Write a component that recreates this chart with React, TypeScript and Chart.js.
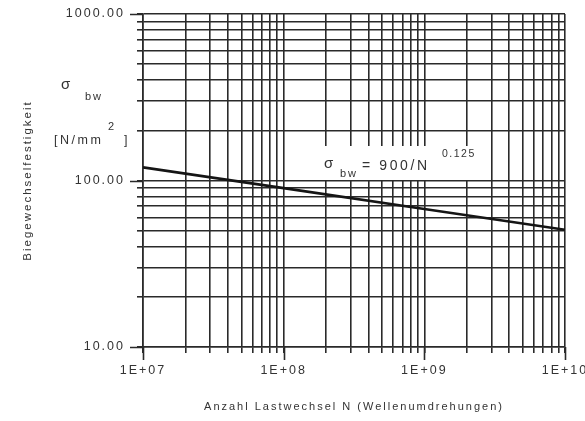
import { useEffect, useRef } from "react";
import { Chart, registerables } from "chart.js";

Chart.register(...registerables);

// Load cycles N and the bending fatigue strength read at each decade
const loadCycles = [1e7, 1e8, 1e9, 1e10];
const fatigueStrength = [120.0, 90.0, 67.5, 50.6];

// Decade boundaries and the labels printed at them
const xDecades = [1e7, 1e8, 1e9, 1e10];
const xDecadeLabels = ["1E+07", "1E+08", "1E+09", "1E+10"];
const yDecades = [10, 100, 1000];
const yDecadeLabels = ["10.00", "100.00", "1000.00"];

const xTitle = "Anzahl Lastwechsel N (Wellenumdrehungen)";
const yTitle = "Biegewechselfestigkeit";

const INK = "#2a2a2a";
const TEXT = "#333333";
const FONT = "Arial, 'Liberation Sans', sans-serif";

type Tick = { value: number; major: boolean };

// 1..9 x 10^n ticks for every decade, plus the closing decade
function logTicks(decades: number[]): Tick[] {
  const out: Tick[] = [];
  for (let i = 0; i < decades.length - 1; i++) {
    for (let m = 1; m <= 9; m++) out.push({ value: m * decades[i], major: m === 1 });
  }
  out.push({ value: decades[decades.length - 1], major: true });
  return out;
}

function labelFor(value: number, decades: number[], labels: string[]) {
  const i = decades.indexOf(value);
  return i >= 0 ? labels[i] : "";
}

// Wide letter spacing for every text on the canvas
const spacing = {
  id: "spacing",
  beforeDraw(chart: any) {
    chart.ctx.letterSpacing = "2px";
  },
};

// Longer tick marks at each decade
const decadeTicks = {
  id: "decadeTicks",
  afterDraw(chart: any) {
    const { ctx, chartArea, scales } = chart;
    ctx.save();
    ctx.strokeStyle = INK;
    ctx.lineWidth = 1.6;
    ctx.beginPath();
    xDecades.forEach((v) => {
      const px = Math.round(scales.x.getPixelForValue(v)) + 0.5;
      ctx.moveTo(px, chartArea.bottom);
      ctx.lineTo(px, chartArea.bottom + 13);
    });
    yDecades.forEach((v) => {
      const py = Math.round(scales.y.getPixelForValue(v)) + 0.5;
      ctx.moveTo(chartArea.left - 13, py);
      ctx.lineTo(chartArea.left, py);
    });
    ctx.stroke();
    ctx.restore();
  },
};

// Unit label on the left and the formula box over the grid
const labels = {
  id: "labels",
  beforeDatasetsDraw(chart: any) {
    const { ctx } = chart;
    ctx.save();
    ctx.fillStyle = TEXT;
    ctx.textBaseline = "alphabetic";
    ctx.textAlign = "left";

    // σ_bw [N/mm²]
    ctx.letterSpacing = "2px";
    ctx.font = `15px ${FONT}`;
    ctx.fillText("σ", 61, 89);
    ctx.font = `11px ${FONT}`;
    ctx.fillText("bw", 85, 100);
    ctx.letterSpacing = "2.5px";
    ctx.font = `12.5px ${FONT}`;
    ctx.fillText("[N/mm", 54, 144);
    ctx.font = `11px ${FONT}`;
    ctx.fillText("2", 108, 130);
    ctx.font = `12.5px ${FONT}`;
    ctx.fillText("]", 124, 144);

    // formula box
    ctx.fillStyle = "#ffffff";
    ctx.fillRect(320, 146, 158, 34);
    ctx.fillStyle = TEXT;
    ctx.letterSpacing = "2px";
    ctx.font = `15px ${FONT}`;
    ctx.fillText("σ", 324, 168);
    ctx.font = `11px ${FONT}`;
    ctx.fillText("bw", 340, 177);
    ctx.letterSpacing = "2.6px";
    ctx.font = `14px ${FONT}`;
    ctx.fillText("= 900/N", 362, 170);
    ctx.letterSpacing = "1.5px";
    ctx.font = `10.5px ${FONT}`;
    ctx.fillText("0.125", 442, 157);
    ctx.restore();
  },
};

export default function App() {
  const canvasRef = useRef<HTMLCanvasElement | null>(null);

  useEffect(() => {
    const canvas = canvasRef.current;
    if (!canvas) return;

    const chart = new Chart(canvas, {
      type: "line",
      data: {
        datasets: [
          {
            data: loadCycles.map((n, i) => ({ x: n, y: fatigueStrength[i] })),
            borderColor: "#151515",
            borderWidth: 2.6,
            pointRadius: 0,
            tension: 0,
            fill: false,
          },
        ],
      },
      options: {
        animation: false,
        responsive: false,
        maintainAspectRatio: false,
        events: [],
        layout: { padding: { top: 14, right: 20, bottom: 0, left: 0 } },
        plugins: {
          legend: { display: false },
          tooltip: { enabled: false },
        },
        scales: {
          x: {
            type: "logarithmic",
            min: xDecades[0],
            max: xDecades[xDecades.length - 1],
            afterBuildTicks: (scale: any) => {
              scale.ticks = logTicks(xDecades);
            },
            afterFit: (scale: any) => {
              scale.height = 74;
              scale.paddingLeft = 0;
              scale.paddingRight = 0;
            },
            grid: {
              color: INK,
              lineWidth: 1.6,
              tickLength: 6,
              drawTicks: true,
            },
            border: { display: true, color: INK, width: 1.6 },
            ticks: {
              autoSkip: false,
              maxRotation: 0,
              minRotation: 0,
              padding: 10,
              color: TEXT,
              font: { family: FONT, size: 12.5 },
              callback: (v: any) => labelFor(Number(v), xDecades, xDecadeLabels),
            },
            title: {
              display: true,
              text: xTitle,
              color: TEXT,
              font: { family: FONT, size: 11 },
              padding: { top: 0, bottom: 7 },
            },
          },
          y: {
            type: "logarithmic",
            min: yDecades[0],
            max: yDecades[yDecades.length - 1],
            afterBuildTicks: (scale: any) => {
              scale.ticks = logTicks(yDecades);
            },
            afterFit: (scale: any) => {
              scale.width = 143;
              scale.paddingTop = 0;
              scale.paddingBottom = 0;
            },
            grid: {
              color: INK,
              lineWidth: 1.6,
              tickLength: 6,
              drawTicks: true,
            },
            border: { display: true, color: INK, width: 1.6 },
            ticks: {
              autoSkip: false,
              padding: 12,
              color: TEXT,
              font: { family: FONT, size: 12.5 },
              callback: (v: any) => labelFor(Number(v), yDecades, yDecadeLabels),
            },
            title: {
              display: true,
              text: yTitle,
              color: TEXT,
              font: { family: FONT, size: 11.5 },
              padding: { top: 21, bottom: 0 },
            },
          },
        },
      },
      plugins: [spacing, labels, decadeTicks],
    } as any);

    return () => chart.destroy();
  }, []);

  return (
    <div style={{ position: "absolute", left: 0, top: 0, width: 585, height: 421, background: "#fff" }}>
      <canvas ref={canvasRef} width={585} height={421} style={{ display: "block" }} />
    </div>
  );
}
